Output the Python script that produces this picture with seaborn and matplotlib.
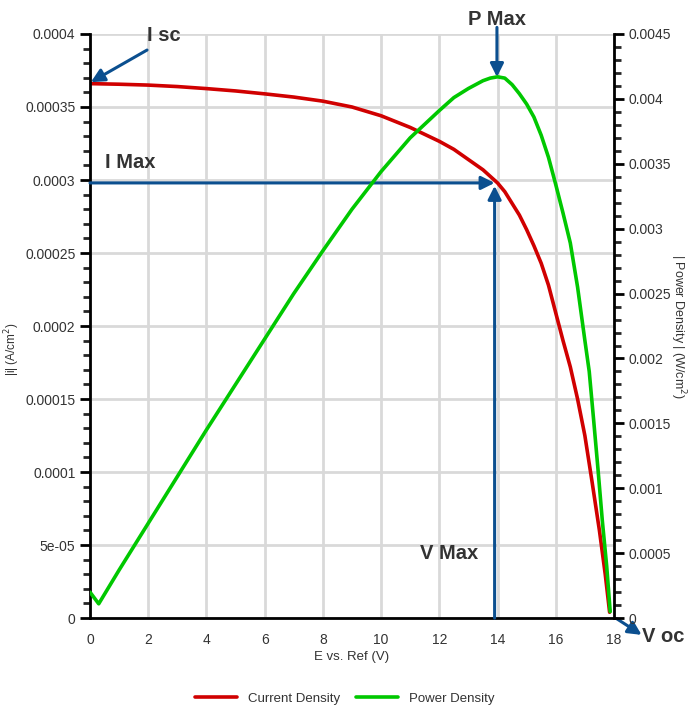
import matplotlib
matplotlib.use("Agg")
import matplotlib.pyplot as plt
from matplotlib.ticker import MultipleLocator
import seaborn as sns
import pandas as pd

# values
volts_i = [0, 1, 2, 3, 4, 5, 6, 7, 8, 9, 10, 11, 12, 12.5, 13, 13.5, 14, 14.25, 14.5,
           14.75, 15, 15.25, 15.5, 15.75, 16, 16.25, 16.5, 16.75, 17, 17.25, 17.5,
           17.7, 17.85]
current = [0.000366, 0.0003656, 0.000365, 0.000364, 0.0003626, 0.000361, 0.000359,
           0.0003568, 0.000354, 0.00035, 0.000344, 0.000336, 0.0003265, 0.000321,
           0.000314, 0.000307, 0.000298, 0.000292, 0.000284, 0.000276, 0.000266,
           0.000255, 0.000243, 0.000228, 0.000209, 0.00019, 0.000172, 0.00015,
           0.000125, 0.000093, 0.00006, 0.00003, 0.000004]

volts_p = [0, 0.3, 1, 2, 3, 4, 5, 6, 7, 8, 9, 10, 11, 12, 12.5, 13, 13.5, 13.75, 14,
           14.25, 14.5, 14.75, 15, 15.25, 15.5, 15.75, 16, 16.25, 16.5, 16.75, 17,
           17.15, 17.3, 17.45, 17.6, 17.75, 17.87]
power = [0.0002, 0.00011, 0.00037, 0.00073, 0.00109, 0.00145, 0.0018, 0.00215,
         0.0025, 0.00283, 0.00315, 0.00344, 0.0037, 0.00391, 0.00401, 0.00408,
         0.00414, 0.00416, 0.00417, 0.00416, 0.00411, 0.00404, 0.00396, 0.00386,
         0.00372, 0.00355, 0.00334, 0.00312, 0.00289, 0.00255, 0.00214, 0.0019,
         0.00153, 0.00115, 0.00075, 0.0004, 0.00005]

i_max = 0.000298
v_max = 13.9

df_i = pd.DataFrame({"E": volts_i, "I": current})
df_p = pd.DataFrame({"E": volts_p, "P": power})

sns.set_style("white")
plt.rcParams["font.family"] = ["Liberation Sans", "DejaVu Sans"]

RED = "#d00000"
GREEN = "#00c800"
BLUE = "#0b4f8f"
GRID = "#d9d9d9"
TXT = "#333333"

fig = plt.figure(figsize=(6.89, 7.08), dpi=100)
ax = fig.add_axes([0.1306, 0.127, 0.7605, 0.825])
ax2 = ax.twinx()

sns.lineplot(data=df_i, x="E", y="I", ax=ax, color=RED, lw=2.6, label="Current Density", legend=False)
sns.lineplot(data=df_p, x="E", y="P", ax=ax2, color=GREEN, lw=2.6, label="Power Density", legend=False)

ax.set_xlim(0, 18)
ax.set_ylim(0, 0.0004)
ax2.set_ylim(0, 0.0045)

ax.xaxis.set_major_locator(MultipleLocator(2))
ax.xaxis.set_minor_locator(MultipleLocator(1))
ax.yaxis.set_minor_locator(MultipleLocator(0.00001))
ax2.yaxis.set_minor_locator(MultipleLocator(0.0001))

ax.set_yticks([0.0004, 0.00035, 0.0003, 0.00025, 0.0002, 0.00015, 0.0001, 0.00005, 0])
ax.set_yticklabels(["0.0004", "0.00035", "0.0003", "0.00025", "0.0002", "0.00015",
                    "0.0001", "5e-05", "0"])
ax2.set_yticks([0.0045, 0.004, 0.0035, 0.003, 0.0025, 0.002, 0.0015, 0.001, 0.0005, 0])
ax2.set_yticklabels(["0.0045", "0.004", "0.0035", "0.003", "0.0025", "0.002", "0.0015",
                     "0.001", "0.0005", "0"])

ax.grid(True, which="major", color=GRID, lw=2)
ax.set_axisbelow(True)
ax2.grid(False)

for a in (ax, ax2):
    a.spines["top"].set_visible(False)
    for s in ("left", "right", "bottom"):
        a.spines[s].set_linewidth(2)
        a.spines[s].set_color("black")
    a.tick_params(which="major", length=7, width=2, direction="out", labelsize=10, colors="black")
    a.tick_params(which="minor", length=5, width=2, direction="out")
    for lab in a.get_xticklabels() + a.get_yticklabels():
        lab.set_color(TXT)
ax.spines["right"].set_visible(False)
ax2.spines["left"].set_visible(False)
ax2.spines["bottom"].set_visible(False)

ax.set_xlabel("E vs. Ref (V)", fontsize=9.5, color=TXT, labelpad=3)
ax.set_ylabel("|i| (A/cm$^2$)", fontsize=8.5, color=TXT, va="center")
ax.yaxis.set_label_coords(-0.148, 0.46)
ax2.set_ylabel("| Power Density | (W/cm$^2$)", fontsize=9, color=TXT, rotation=270, va="center")
ax2.yaxis.set_label_coords(1.122, 0.5)

# annotations
arrow = dict(arrowstyle="-|>", color=BLUE, lw=2.2, mutation_scale=20, shrinkA=0, shrinkB=0)
bold = dict(fontsize=14.5, fontweight="bold", color=TXT, ha="center", va="center")

ax.annotate("", xy=(0.03, 0.000367), xytext=(1.96, 0.000389), arrowprops=arrow, annotation_clip=False)
ax.text(2.55, 0.000399, "I sc", clip_on=False, **bold)

ax.annotate("", xy=(13.98, 0.0003705), xytext=(13.98, 0.0004045), arrowprops=arrow, annotation_clip=False)
ax.text(13.98, 0.000410, "P Max", clip_on=False, **bold)

ax.annotate("", xy=(v_max, i_max), xytext=(0, i_max), arrowprops=arrow, annotation_clip=False)
ax.text(1.4, 0.000312, "I Max", **bold)

ax.annotate("", xy=(v_max, i_max - 0.000002), xytext=(v_max, 0), arrowprops=arrow, annotation_clip=False)
ax.text(12.35, 0.0000445, "V Max", **bold)

ax.annotate("", xy=(18.95, -0.0000115), xytext=(18.1, -0.0000005), arrowprops=arrow, annotation_clip=False)
ax.text(19.7, -0.0000125, "V oc", clip_on=False, **bold)

h1, l1 = ax.get_legend_handles_labels()
h2, l2 = ax2.get_legend_handles_labels()
leg = fig.legend(h1 + h2, l1 + l2, loc="lower center", bbox_to_anchor=(0.5, -0.012), ncol=2,
                 frameon=False, fontsize=9.5, handlelength=3.2, columnspacing=1.2)
for t in leg.get_texts():
    t.set_color(TXT)

fig.savefig("out.png", dpi=100)
